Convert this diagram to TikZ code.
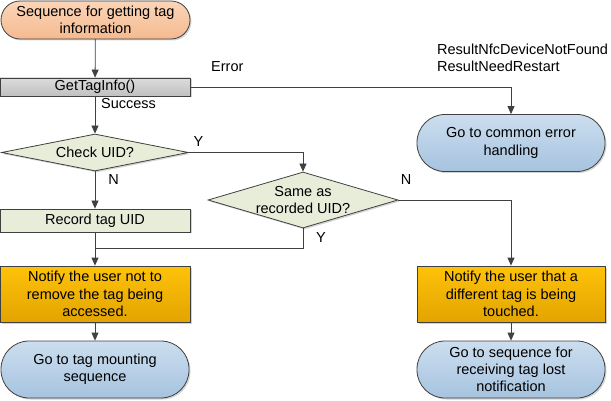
\documentclass[tikz,border=0pt]{standalone}
\usepackage{fontspec}
\setmainfont{Liberation Sans}
\usetikzlibrary{shapes.geometric,shadows,arrows.meta}
\definecolor{linec}{HTML}{404040}
\definecolor{peachT}{HTML}{FBD5B8}
\definecolor{peachB}{HTML}{F4BA90}
\definecolor{blueT}{HTML}{CCDEEF}
\definecolor{blueB}{HTML}{A6C3DF}
\definecolor{goldT}{HTML}{FFC20A}
\definecolor{goldB}{HTML}{E2A400}
\definecolor{grayT}{HTML}{DCDCDC}
\definecolor{grayB}{HTML}{C0C0C0}
\definecolor{sage}{HTML}{E8EDDA}
\begin{document}
\begin{tikzpicture}[x=1pt,y=1pt,
  font=\fontsize{14.5}{17.2}\selectfont,
  base/.style={draw=linec,line width=0.8pt,align=center,inner sep=0pt,
    drop shadow={shadow xshift=1.5pt,shadow yshift=-1.5pt,opacity=0.35}},
  term/.style={base,rectangle,rounded corners=19pt},
  startterm/.style={term,top color=peachT,bottom color=peachB},
  blueterm/.style={term,rounded corners=28pt,top color=blueT,bottom color=blueB},
  graybox/.style={base,rectangle,top color=grayT,bottom color=grayB},
  greenbox/.style={base,rectangle,fill=sage},
  decis/.style={base,diamond,fill=sage},
  notify/.style={base,rectangle,top color=goldT,bottom color=goldB},
  conn/.style={draw=linec,line width=0.8pt},
  arr/.style={conn,-{Triangle[length=8pt,width=7pt]}},
  lbl/.style={inner sep=0pt}]
\useasboundingbox (0,0) rectangle (611,-401);

\node[startterm,minimum width=189pt,minimum height=38pt] (s) at (95.5,-20) {Sequence for getting tag\\information};
\node[graybox,minimum width=190pt,minimum height=18pt] (g) at (95,-87) {GetTagInfo()};
\node[blueterm,minimum width=188pt,minimum height=57pt] (e) at (511,-143) {Go to common error\\handling};
\node[decis,minimum width=187pt,minimum height=37pt] (c) at (95,-152.5) {};
\node[lbl] (ct) at (c) {Check UID?};
\node[decis,minimum width=190pt,minimum height=56pt] (d) at (303,-200) {};
\node[lbl,align=center] (dt) at (303,-200) {Same as\\recorded UID?};
\node[greenbox,minimum width=190pt,minimum height=23pt] (r) at (95,-220.5) {Record tag UID};
\node[notify,minimum width=190pt,minimum height=56pt] (n1) at (95,-294) {Notify the user not to\\remove the tag being\\accessed.};
\node[blueterm,minimum width=188pt,minimum height=57pt] (t1) at (95,-369.5) {Go to tag mounting\\sequence};
\node[notify,minimum width=188pt,minimum height=56pt] (n2) at (511,-294) {Notify the user that a\\different tag is being\\touched.};
\node[blueterm,minimum width=188pt,minimum height=57pt] (t2) at (511,-369.5) {Go to sequence for\\receiving tag lost\\notification};

\coordinate (j) at (95,-248);

\draw[arr] (s) -- (g);
\draw[arr] (g.east) -| (e.north);
\draw[arr] (g) -- (c);
\draw[arr] (c.east) -| (d.north);
\draw[arr] (c.south) -- (r.north);
\draw[arr] (d.east) -| (n2.north);
\draw[arr] (r.south) -- (n1.north);
\draw[conn] (d.south) |- (j);
\draw[arr] (n1) -- (t1);
\draw[arr] (n2) -- (t2);

\node[lbl,anchor=west] (lerr) at (211,-67) {Error};
\node[lbl,anchor=west,align=left] (lres) at (437,-57.5) {ResultNfcDeviceNotFound\\ResultNeedRestart};
\node[lbl,anchor=west] (lsuc) at (101,-104) {Success};
\node[lbl] (ly1) at (198.5,-142) {Y};
\node[lbl] (ln1) at (113.5,-180) {N};
\node[lbl] (ln2) at (406,-180) {N};
\node[lbl] (ly2) at (321,-238) {Y};
\end{tikzpicture}
\end{document}
